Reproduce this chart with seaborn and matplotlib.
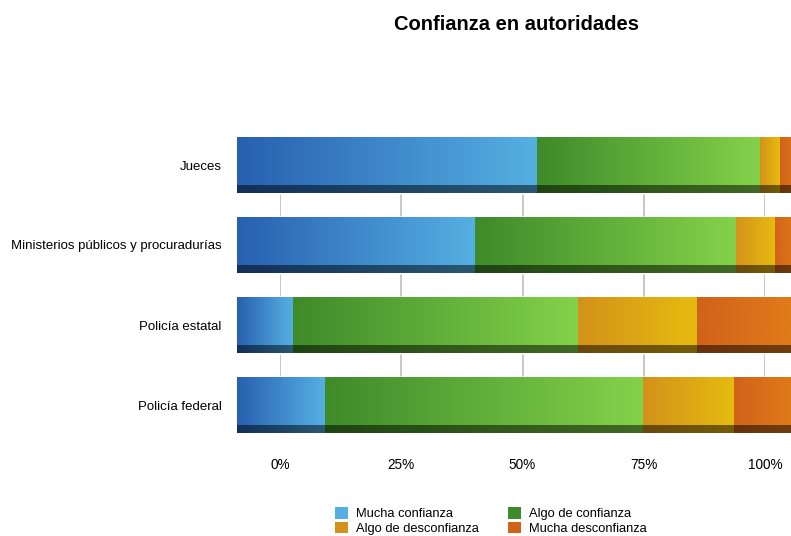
import numpy as np
import pandas as pd
import matplotlib
matplotlib.use("Agg")
import matplotlib.pyplot as plt
import seaborn as sns
from matplotlib.colors import LinearSegmentedColormap
from matplotlib.patches import Patch, Rectangle

# ------------------------------------------
# Data
# ------------------------------------------
categories = ["Jueces", "Ministerios públicos y procuradurías", "Policía estatal", "Policía federal"]
series = ["Mucha confianza", "Algo de confianza", "Algo de desconfianza", "Mucha desconfianza"]
mucha_confianza = [53.2, 42.2, 9.8, 15.5]
algo_confianza = [39.6, 46.2, 50.7, 56.6]
algo_desconfianza = [3.6, 7.0, 21.0, 16.0]
mucha_desconfianza = [3.6, 4.6, 18.5, 11.9]
tick_vals = [0, 25, 50, 75, 100]
tick_labels = ["0%", "25%", "50%", "75%", "100%"]

dark = ["#2860b0", "#3f8a2a", "#d3921a", "#d0621a"]
light = ["#55b0e2", "#84d24a", "#e6bb10", "#e27e1a"]

df = pd.DataFrame({
    "categoria": categories,
    series[0]: mucha_confianza,
    series[1]: algo_confianza,
    series[2]: algo_desconfianza,
    series[3]: mucha_desconfianza,
})
cum = df[series].cumsum(axis=1)

sns.set_style("white")
plt.rcParams["font.family"] = ["Liberation Sans", "DejaVu Sans"]
plt.rcParams["text.color"] = "black"
plt.rcParams["xtick.color"] = "black"
plt.rcParams["ytick.color"] = "black"

W, H = 791, 536
fig = plt.figure(figsize=(W / 100, H / 100), dpi=100)

# ------------------------------------------
# Background axis: gridlines + percent labels
# ------------------------------------------
ax_bg = fig.add_axes([280 / W, 1 - 432 / H, 485 / W, (432 - 190) / H])
ax_bg.set_xlim(0, 100)
ax_bg.set_xticks(tick_vals)
ax_bg.set_xticklabels(tick_labels, fontsize=9.8)
ax_bg.set_yticks([])
ax_bg.grid(axis="x", color="#c8c8c8", lw=1.4)
ax_bg.tick_params(axis="x", length=0, pad=19)
for s in ax_bg.spines.values():
    s.set_visible(False)

# ------------------------------------------
# Front axis: stacked bars
# ------------------------------------------
ax = fig.add_axes([237 / W, 1 - 445 / H, 563 / W, 320 / H])
ax.patch.set_alpha(0)

for i in reversed(range(len(series))):
    sns.barplot(data=cum.assign(categoria=categories), x=series[i], y="categoria",
                color=dark[i], orient="h", width=0.69, ax=ax)

# patches come in reversed series order, 4 per series
patches = ax.patches
for k, p in enumerate(patches):
    i = len(series) - 1 - k // len(categories)
    j = k % len(categories)
    val = df[series[i]].iloc[j]
    right = p.get_width()
    left = right - val
    y, h = p.get_y(), p.get_height()
    cmap = LinearSegmentedColormap.from_list("g", [dark[i], light[i]])
    ax.imshow(np.linspace(0, 1, 256)[None, :], cmap=cmap, aspect="auto",
              extent=(left, right, y + h, y), zorder=3, interpolation="bicubic")
    ax.add_patch(Rectangle((left, y + h * 0.87), val, h * 0.13,
                           color="black", alpha=0.5, lw=0, zorder=4))

ax.set_xlim(0, 100)
ax.set_ylim(3.5, -0.5)
ax.set_xticks([])
ax.set_xlabel("")
ax.set_ylabel("")
ax.tick_params(axis="y", length=0, pad=11, labelsize=9.5)
for s in ax.spines.values():
    s.set_visible(False)

# ------------------------------------------
# Title & legend
# ------------------------------------------
fig.text(516 / W, 1 - 25 / H, "Confianza en autoridades", ha="center", va="center",
         fontsize=14.5, fontweight="bold")

order = [0, 2, 1, 3]
handles = [Patch(facecolor=light[i] if i == 0 else dark[i], edgecolor="none") for i in order]
fig.legend(handles, [series[i] for i in order], ncol=2, loc="center",
           bbox_to_anchor=(491 / W, 1 - 521 / H), frameon=False, fontsize=9.3,
           handlelength=1.0, handleheight=1.0, handletextpad=0.6,
           columnspacing=2.3, labelspacing=0.12)

fig.savefig("out.png", dpi=100)
